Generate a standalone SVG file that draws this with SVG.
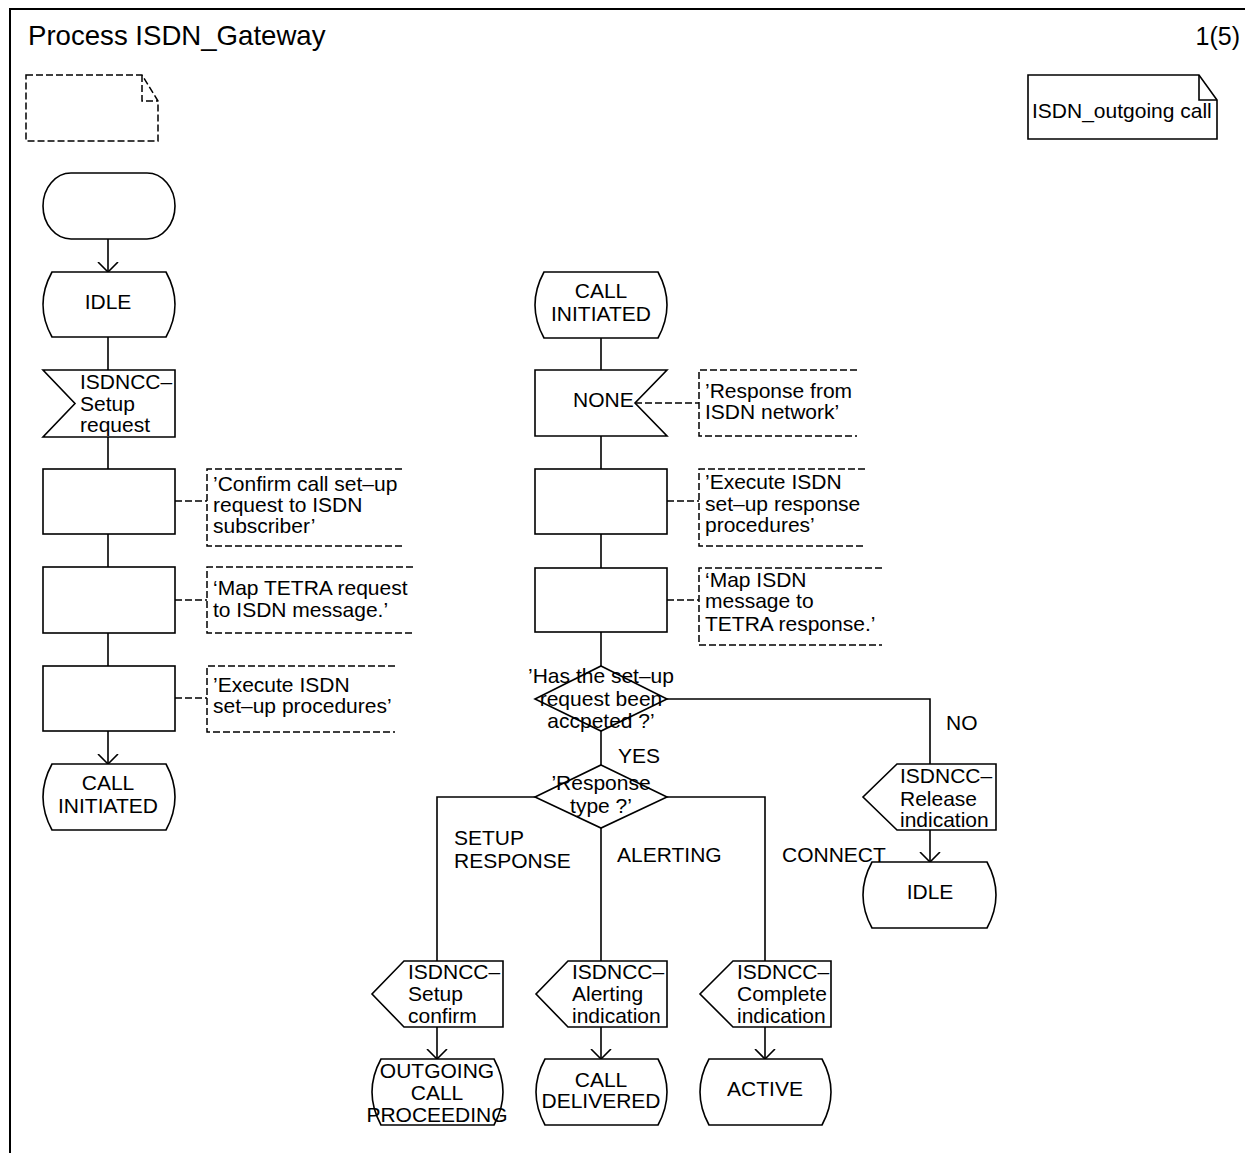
<svg xmlns="http://www.w3.org/2000/svg" width="1245" height="1153" viewBox="0 0 1245 1153">
<style>
text{font-family:"Liberation Sans",Arial,sans-serif;font-size:21px;fill:#000}
.t{font-size:27.6px}
.p{font-size:25px}
.s{fill:#fff;stroke:#000;stroke-width:1.6}
.d{fill:none;stroke:#000;stroke-width:1.5;stroke-dasharray:7,3}
.c{fill:none;stroke:#000;stroke-width:1.6}
.m{text-anchor:middle}
</style>
<defs>
<marker id="ah" markerUnits="userSpaceOnUse" viewBox="0 0 11 22" refX="10" refY="11" markerWidth="11" markerHeight="22" orient="auto">
<path d="M0,1 L10,11 L0,21" fill="none" stroke="#000" stroke-width="1.6"/>
</marker>
</defs>
<rect width="1245" height="1153" fill="#fff"/>
<g id="frame">
<path d="M10,1153 L10,9 L1245,9" fill="none" stroke="#000" stroke-width="2"/>
<text class="t" x="28" y="45">Process ISDN_Gateway</text>
<text class="p" x="1240" y="45" text-anchor="end">1(5)</text>
</g>
<g id="connectors">
<line class="c" x1="108" y1="239" x2="108" y2="272" marker-end="url(#ah)"/>
<line class="c" x1="108" y1="337" x2="108" y2="370"/>
<line class="c" x1="108" y1="437" x2="108" y2="469"/>
<line class="c" x1="108" y1="534" x2="108" y2="567"/>
<line class="c" x1="108" y1="633" x2="108" y2="666"/>
<line class="c" x1="108" y1="731" x2="108" y2="764" marker-end="url(#ah)"/>
<line class="c" x1="601" y1="338" x2="601" y2="370"/>
<line class="c" x1="601" y1="436" x2="601" y2="469"/>
<line class="c" x1="601" y1="534" x2="601" y2="568"/>
<line class="c" x1="601" y1="632" x2="601" y2="666"/>
<line class="c" x1="601" y1="731" x2="601" y2="765"/>
<path class="c" d="M667,699 L930,699 L930,764"/>
<line class="c" x1="930" y1="830" x2="930" y2="862" marker-end="url(#ah)"/>
<path class="c" d="M535,797 L437,797 L437,961"/>
<line class="c" x1="601" y1="828" x2="601" y2="961"/>
<path class="c" d="M667,797 L765,797 L765,961"/>
<line class="c" x1="437" y1="1027" x2="437" y2="1059" marker-end="url(#ah)"/>
<line class="c" x1="601" y1="1027" x2="601" y2="1059" marker-end="url(#ah)"/>
<line class="c" x1="765" y1="1027" x2="765" y2="1059" marker-end="url(#ah)"/>
<line class="d" x1="175" y1="501" x2="207" y2="501"/>
<line class="d" x1="175" y1="600" x2="207" y2="600"/>
<line class="d" x1="175" y1="698" x2="207" y2="698"/>
<line class="d" x1="635" y1="403" x2="699" y2="403"/>
<line class="d" x1="667" y1="501" x2="699" y2="501"/>
<line class="d" x1="667" y1="600" x2="699" y2="600"/>
<text x="618" y="763">YES</text>
<text x="946" y="730">NO</text>
<text x="454" y="845">SETUP</text>
<text x="454" y="868">RESPONSE</text>
<text x="617" y="862">ALERTING</text>
<text x="782" y="862">CONNECT</text>
</g>
<g id="textsym">
<path class="d" d="M26,75 L142,75 L158,101 L158,141 L26,141 Z M142,75 L142,101 L158,101"/>
</g>
<g id="ref_outgoing">
<path class="s" d="M1028,75 L1199,75 L1217,100 L1217,139 L1028,139 Z"/>
<path class="c" d="M1199,75 L1199,100 L1217,100"/>
<text x="1032" y="118">ISDN_outgoing call</text>
</g>
<g id="start">
<rect class="s" x="43" y="173" width="132" height="66" rx="28" ry="33"/>
</g>
<g id="idle1">
<path class="s" d="M52,272 L166,272 Q184,304.5 166,337 L52,337 Q34,304.5 52,272 Z"/>
<text class="m" x="108" y="309">IDLE</text>
</g>
<g id="in_setup">
<polygon class="s" points="43,370 175,370 175,437 43,437 75,403.5"/>
<text x="80" y="389">ISDNCC–</text>
<text x="80" y="411">Setup</text>
<text x="80" y="432">request</text>
</g>
<g id="task1">
<rect class="s" x="43" y="469" width="132" height="65"/>
</g>
<g id="c1">
<path class="d" d="M402,469 L207,469 L207,546 L402,546"/>
<text x="213" y="491">’Confirm call set–up</text>
<text x="213" y="512">request to ISDN</text>
<text x="213" y="533">subscriber’</text>
</g>
<g id="task2">
<rect class="s" x="43" y="567" width="132" height="66"/>
</g>
<g id="c2">
<path class="d" d="M413,567 L207,567 L207,633 L413,633"/>
<text x="213" y="595">‘Map TETRA request</text>
<text x="213" y="617">to ISDN message.’</text>
</g>
<g id="task3">
<rect class="s" x="43" y="666" width="132" height="65"/>
</g>
<g id="c3">
<path class="d" d="M395,666 L207,666 L207,732 L395,732"/>
<text x="213" y="692">’Execute ISDN</text>
<text x="213" y="713">set–up procedures’</text>
</g>
<g id="callinit1">
<path class="s" d="M52,764 L166,764 Q184,797 166,830 L52,830 Q34,797 52,764 Z"/>
<text class="m" x="108" y="790">CALL</text>
<text class="m" x="108" y="813">INITIATED</text>
</g>
<g id="callinit2">
<path class="s" d="M544,272 L658,272 Q676,305 658,338 L544,338 Q526,305 544,272 Z"/>
<text class="m" x="601" y="298">CALL</text>
<text class="m" x="601" y="321">INITIATED</text>
</g>
<g id="in_none">
<polygon class="s" points="535,370 667,370 635,403 667,436 535,436"/>
<text x="573" y="407">NONE</text>
</g>
<g id="c4">
<path class="d" d="M857,370 L699,370 L699,436 L857,436"/>
<text x="705" y="398">’Response from</text>
<text x="705" y="419">ISDN network’</text>
</g>
<g id="taskA">
<rect class="s" x="535" y="469" width="132" height="65"/>
</g>
<g id="c5">
<path class="d" d="M865,469 L699,469 L699,546 L865,546"/>
<text x="705" y="489">’Execute ISDN</text>
<text x="705" y="511">set–up response</text>
<text x="705" y="532">procedures’</text>
</g>
<g id="taskB">
<rect class="s" x="535" y="568" width="132" height="64"/>
</g>
<g id="c6">
<path class="d" d="M882,568 L699,568 L699,645 L882,645"/>
<text x="705" y="587">‘Map ISDN</text>
<text x="705" y="608">message to</text>
<text x="705" y="631">TETRA response.’</text>
</g>
<g id="dec1">
<polygon class="s" points="601,666 667,699 601,731 535,699"/>
<text class="m" x="601" y="683">’Has the set–up</text>
<text class="m" x="601" y="706">request been</text>
<text class="m" x="601" y="728">accpeted ?’</text>
</g>
<g id="dec2">
<polygon class="s" points="601,765 667,797 601,828 535,797"/>
<text class="m" x="601" y="790">’Response</text>
<text class="m" x="601" y="813">type ?’</text>
</g>
<g id="out_release">
<polygon class="s" points="897,764 996,764 996,830 897,830 863,797"/>
<text x="900" y="783">ISDNCC–</text>
<text x="900" y="806">Release</text>
<text x="900" y="827">indication</text>
</g>
<g id="idle2">
<path class="s" d="M872,862 L987,862 Q1005,895 987,928 L872,928 Q854,895 872,862 Z"/>
<text class="m" x="930" y="899">IDLE</text>
</g>
<g id="out_setupconfirm">
<polygon class="s" points="404,961 503,961 503,1027 404,1027 372,994"/>
<text x="408" y="979">ISDNCC–</text>
<text x="408" y="1001">Setup</text>
<text x="408" y="1023">confirm</text>
</g>
<g id="out_alerting">
<polygon class="s" points="568,961 667,961 667,1027 568,1027 536,994"/>
<text x="572" y="979">ISDNCC–</text>
<text x="572" y="1001">Alerting</text>
<text x="572" y="1023">indication</text>
</g>
<g id="out_complete">
<polygon class="s" points="733,961 831,961 831,1027 733,1027 700,994"/>
<text x="737" y="979">ISDNCC–</text>
<text x="737" y="1001">Complete</text>
<text x="737" y="1023">indication</text>
</g>
<g id="st_outgoing">
<path class="s" d="M381,1059 L494,1059 Q512,1092 494,1125 L381,1125 Q363,1092 381,1059 Z"/>
<text class="m" x="437" y="1078">OUTGOING</text>
<text class="m" x="437" y="1100">CALL</text>
<text class="m" x="437" y="1122">PROCEEDING</text>
</g>
<g id="st_delivered">
<path class="s" d="M545,1059 L658,1059 Q676,1092 658,1125 L545,1125 Q527,1092 545,1059 Z"/>
<text class="m" x="601" y="1087">CALL</text>
<text class="m" x="601" y="1108">DELIVERED</text>
</g>
<g id="st_active">
<path class="s" d="M709,1059 L822,1059 Q840,1092 822,1125 L709,1125 Q691,1092 709,1059 Z"/>
<text class="m" x="765" y="1096">ACTIVE</text>
</g>
</svg>
